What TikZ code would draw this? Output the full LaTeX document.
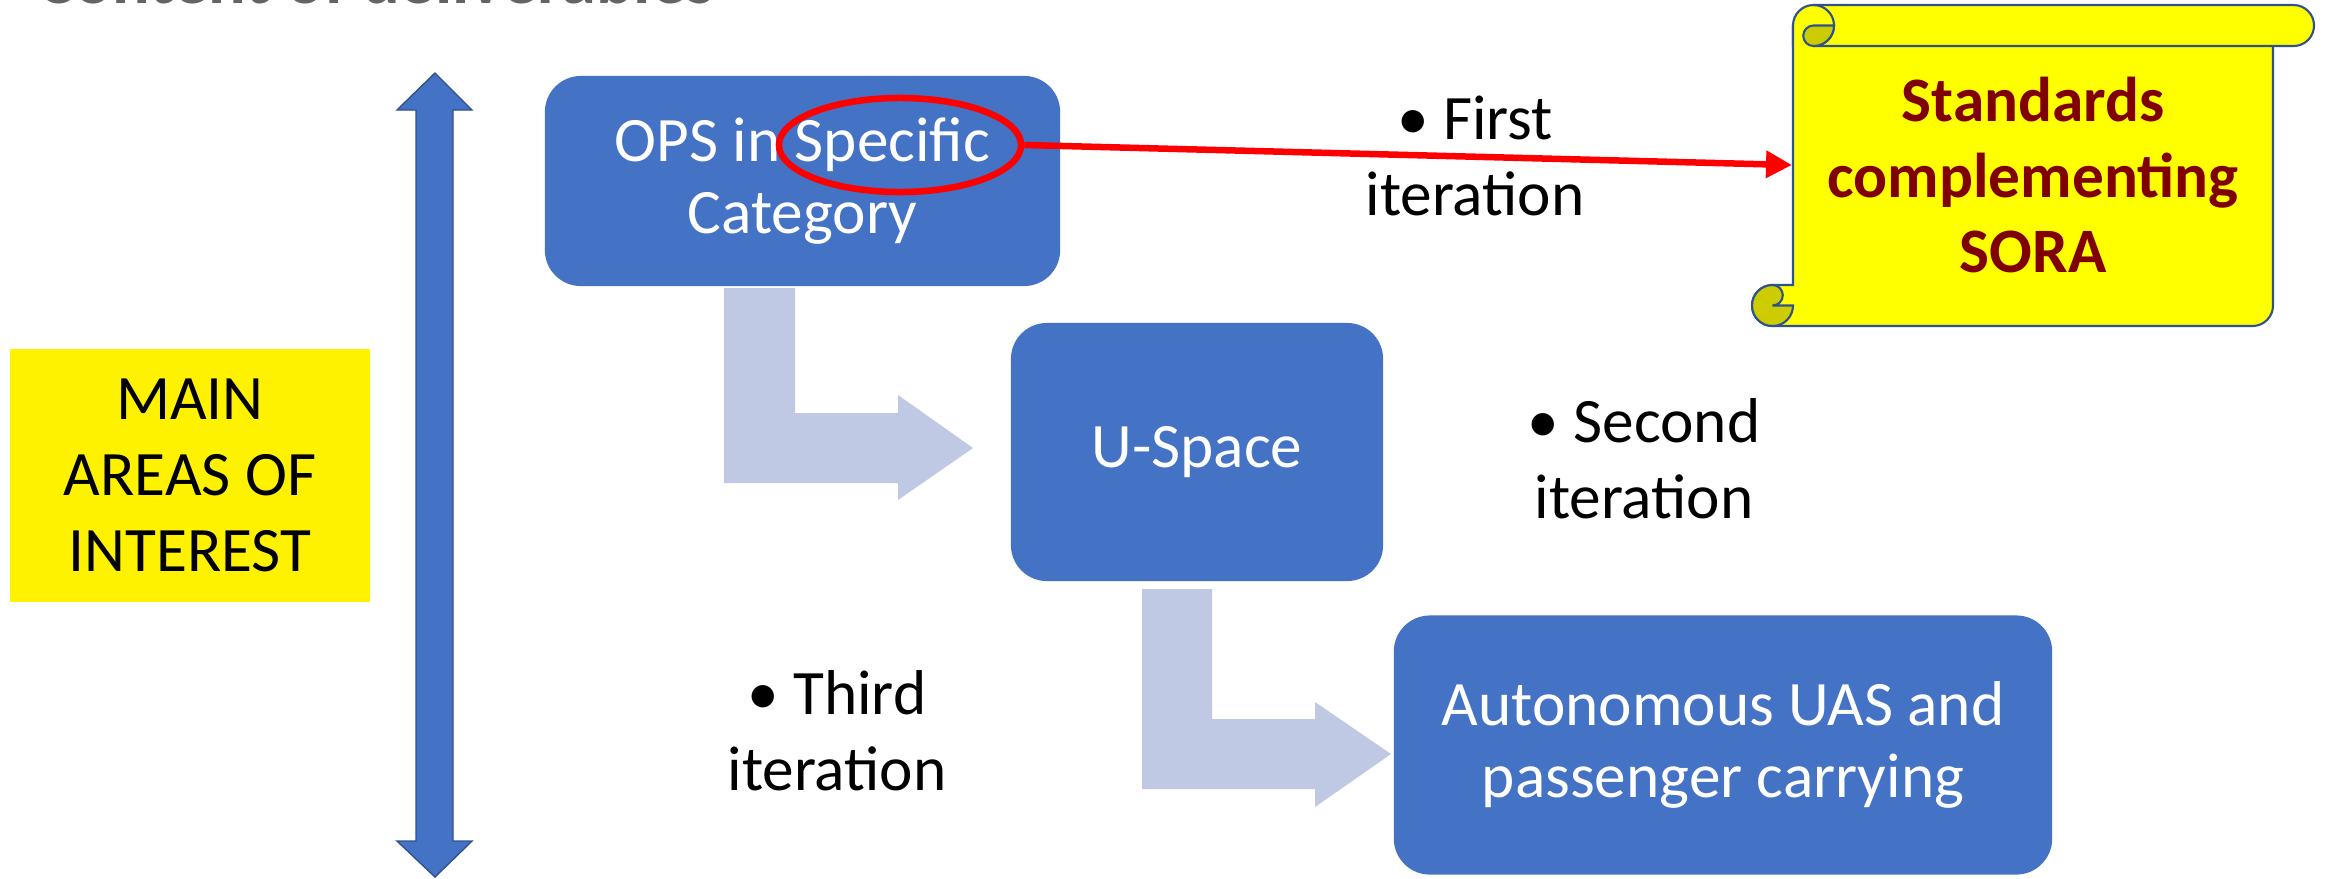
\documentclass[tikz,border=0pt]{standalone}
\usepackage{fontspec}
\setmainfont{Carlito}
\usetikzlibrary{arrows.meta,shapes.geometric}
\definecolor{boxblue}{RGB}{68,114,196}
\definecolor{edgeblue}{RGB}{47,82,143}
\definecolor{lightarrow}{RGB}{191,201,227}
\definecolor{scrollyellow}{RGB}{255,255,0}
\definecolor{curlyellow}{RGB}{204,204,0}
\definecolor{stdred}{RGB}{128,0,0}
\definecolor{titlegray}{RGB}{100,100,100}
\begin{document}
\begin{tikzpicture}[x=0.01cm,y=-0.01cm,
  txt/.style={font=\fontsize{18pt}{21.6pt}\selectfont, align=center, inner sep=0pt},
  bluebox/.style={txt, font=\fontsize{18pt}{20.6pt}\selectfont, rectangle, rounded corners=0.36cm, fill=boxblue, text=white},
  lightarr/.style={fill=lightarrow},
  scrollline/.style={draw=edgeblue, line width=0.6pt},
  redline/.style={draw=red, line width=0.065cm}
]
\useasboundingbox (0,0) rectangle (2331,878);
\clip (0,0) rectangle (2331,878);
\fill[white] (0,0) rectangle (2331,878);

% cut-off title
\node[anchor=base west, inner sep=0pt, text=titlegray,
      font=\fontsize{20pt}{24pt}\selectfont\bfseries] (title) at (37,3) {Content of deliverables};

% vertical double arrow
\filldraw[fill=boxblue, draw=edgeblue, line width=0.4pt]
  (435,73) -- (472,110) -- (453,110) -- (453,841) -- (472,841) -- (435,877)
  -- (397,841) -- (416,841) -- (416,110) -- (397,110) -- cycle;

% main areas box
\node[txt, fill=yellow, minimum width=3.6cm, minimum height=2.53cm] (main) at (190,475.5)
  {MAIN\\AREAS OF\\INTEREST};

% light bent arrows
\fill[lightarr] (724,288) -- (795,288) -- (795,413) -- (898,413) -- (898,395) -- (973,448)
  -- (898,500) -- (898,483) -- (724,483) -- cycle;
\fill[lightarr] (1142,589) -- (1212,589) -- (1212,719) -- (1315,719) -- (1315,702) -- (1391,754)
  -- (1315,807) -- (1315,789) -- (1142,789) -- cycle;

% blue boxes
\node[bluebox, minimum width=5.15cm, minimum height=2.1cm] (ops) at (802.5,181)
  {OPS in Specific\\Category};
\node[bluebox, minimum width=3.72cm, minimum height=2.58cm] (usp) at (1197,452) {U-Space};
\node[bluebox, minimum width=6.58cm, minimum height=2.59cm] (auto) at (1723,745)
  {Autonomous UAS and\\passenger carrying};

% iteration labels
\node[txt] (it1) at (1475,156) {• First\\iteration};
\node[txt] (it2) at (1644,459) {• Second\\iteration};
\node[txt] (it3) at (837,731) {• Third\\iteration};

% scroll shape
\filldraw[fill=scrollyellow, scrollline]
  (1793,25.5) -- (1793,285) -- (1772.5,285)
  arc[start angle=90, end angle=270, radius=0.205cm]
  -- (2252.5,326) arc[start angle=270, end angle=360, radius=0.205cm]
  -- (2273,25.5) -- cycle;
\filldraw[fill=curlyellow, scrollline]
  (1772.5,285) arc[start angle=90, end angle=360, radius=0.205cm]
  -- (1772.5,305.5) arc[start angle=-90, end angle=90, radius=0.1025cm] -- cycle;
\fill[scrollyellow]
  (1793,25.5) arc[start angle=180, end angle=90, radius=0.205cm]
  -- (2293.5,5) arc[start angle=90, end angle=-90, radius=0.205cm]
  -- (1793,46) -- cycle;
\draw[scrollline]
  (1793,46) -- (1793,25.5) arc[start angle=180, end angle=90, radius=0.205cm]
  -- (2293.5,5) arc[start angle=90, end angle=-90, radius=0.205cm]
  -- (1813.5,46);
\draw[scrollline] (1813.5,5) arc[start angle=90, end angle=-90, radius=0.205cm];
\filldraw[fill=curlyellow, scrollline]
  (1813.5,25.5) -- (1834,25.5) arc[start angle=0, end angle=-90, radius=0.205cm]
  arc[start angle=-90, end angle=-270, radius=0.1025cm] -- cycle;
\node[txt, text=stdred, font=\fontsize{18pt}{21.6pt}\selectfont\bfseries] (std) at (2033,175)
  {Standards\\complementing\\SORA};
\coordinate (scrollL) at (1792,165);

% red highlight and arrow
\node[ellipse, redline, minimum width=2.42cm, minimum height=0.94cm, inner sep=0pt] (ell) at (900,145) {};
\draw[redline, -{Triangle[length=0.26cm,width=0.26cm]}] (ell.east) -- (scrollL);
\end{tikzpicture}
\end{document}
